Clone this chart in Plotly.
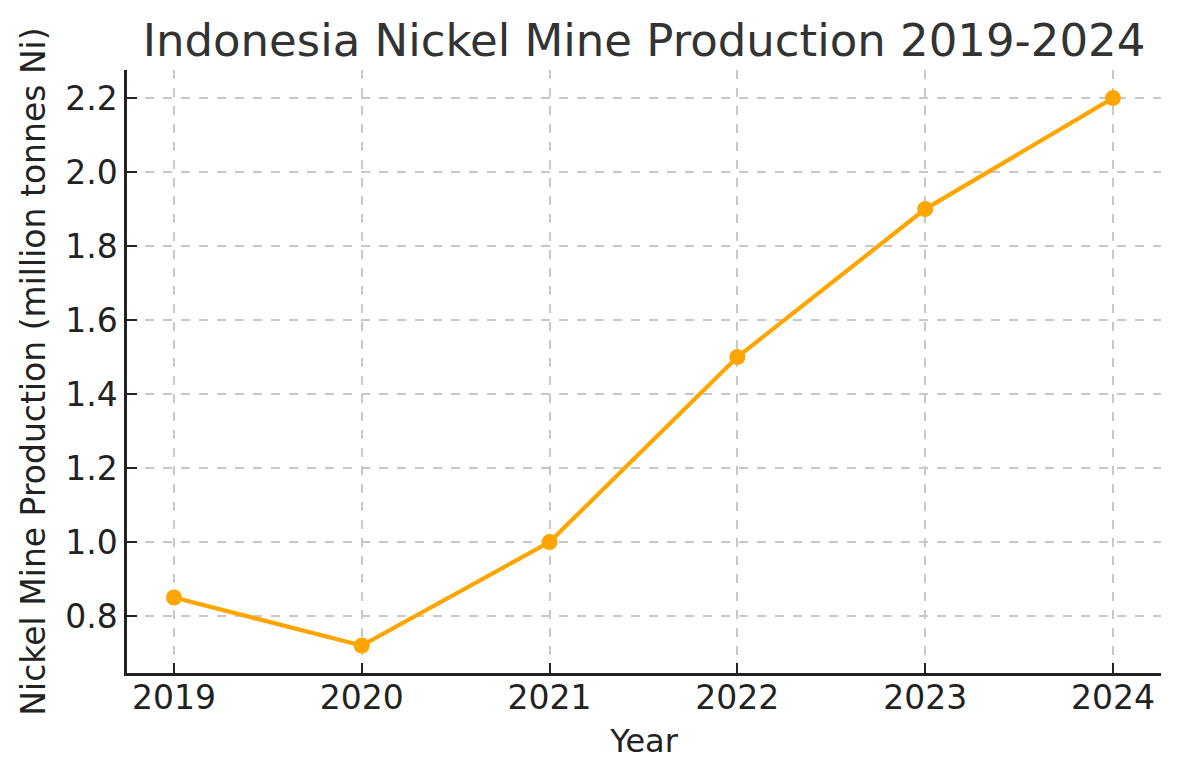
import plotly.graph_objects as go

years = [2019, 2020, 2021, 2022, 2023, 2024]
production = [0.85, 0.72, 1.0, 1.5, 1.9, 2.2]
y_ticks = [0.8, 1.0, 1.2, 1.4, 1.6, 1.8, 2.0, 2.2]

# page body has an 8px margin, so the figure is offset by 8px
W, H = 1171, 772
OFF = 8

fig = go.Figure()
fig.add_trace(go.Scatter(
    x=years, y=production, mode="lines+markers",
    line=dict(color="#FFA500", width=4.2),
    marker=dict(color="#FFA500", size=16),
))

font_family = "DejaVu Sans"
fig.update_layout(
    width=W, height=H,
    margin=dict(l=127 - OFF, r=1179 - 1161, t=70 - OFF, b=780 - 673),
    paper_bgcolor="white", plot_bgcolor="white",
    showlegend=False,
    title=dict(text="Indonesia Nickel Mine Production 2019-2024",
               x=0.5, xanchor="center", xref="paper",
               y=1 - (40 - OFF) / H, yanchor="middle",
               font=dict(family=font_family, size=45, color="#333333")),
    font=dict(family=font_family, color="#222222"),
)
fig.update_xaxes(
    range=[2018.75, 2024.256], tickvals=years, ticktext=[str(y) for y in years],
    showline=True, linecolor="#222222", linewidth=2.5, mirror=False,
    ticks="inside", ticklen=10, tickwidth=2.2, tickcolor="#222222",
    ticklabelstandoff=-6,
    showgrid=True, gridcolor="#c8c8c8", griddash="dash", gridwidth=1.5,
    zeroline=False,
    tickfont=dict(size=33, family=font_family, color="#222222"),
    title=dict(text="Year", font=dict(size=32, family=font_family, color="#222222"), standoff=14),
)
fig.update_yaxes(
    range=[0.646, 2.276], tickvals=y_ticks, ticktext=[f"{v:.1f}" for v in y_ticks],
    showline=True, linecolor="#222222", linewidth=2.5, mirror=False,
    ticks="inside", ticklen=10, tickwidth=2.2, tickcolor="#222222",
    showgrid=True, gridcolor="#c8c8c8", griddash="dash", gridwidth=1.5,
    zeroline=False,
    tickfont=dict(size=33, family=font_family, color="#222222"),
    title=dict(text="Nickel Mine Production (million tonnes Ni)",
               font=dict(size=33, family=font_family, color="#222222"), standoff=10),
)

fig.write_html("out.html")
